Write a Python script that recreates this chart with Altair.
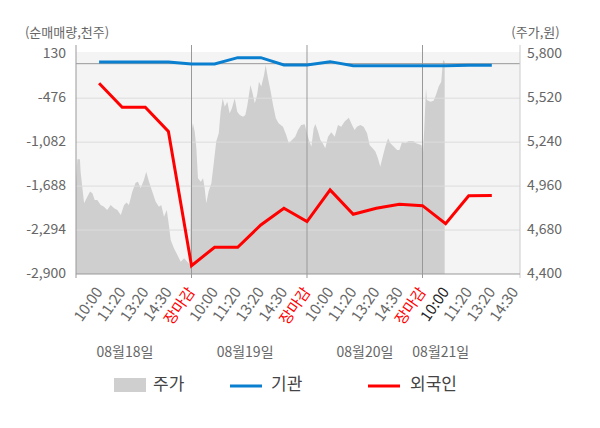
import altair as alt
import pandas as pd

FONT = "Noto Sans CJK KR"
W, H = 444, 222

# ---- data ----
tick_values = list(range(1, 20))
tick_labels = ["10:00", "11:20", "13:20", "14:30", "장마감"] * 3 + ["10:00", "11:20", "13:20", "14:30"]
day_bounds = [0, 5, 10, 15]
date_labels = ["08월18일", "08월19일", "08월20일", "08월21일"]
date_pos = [2.12, 7.32, 12.51, 15.79]

left_ticks = [130, -476, -1082, -1688, -2294, -2900]
left_tick_labels = ["130", "-476", "-1,082", "-1,688", "-2,294", "-2,900"]
right_ticks = [5800, 5520, 5240, 4960, 4680, 4400]
right_tick_labels = ["5,800", "5,520", "5,240", "4,960", "4,680", "4,400"]
grid_vals = [-476, -1082, -1688, -2294]

flow_x = list(range(1, 19))
inst = [24, 24, 24, 24, -5, -5, 83, 83, -18, -18, 28, -27, -27, -27, -27, -30, -20, -20]
foreign = [-269, -600, -600, -936, -2785, -2531, -2531, -2224, -1994, -2178,
           -1741, -2076, -1994, -1939, -1958, -2207, -1821, -1817]

price_x = [0.0, 0.06, 0.17, 0.20, 0.27, 0.35, 0.49, 0.61, 0.71, 0.81, 0.92, 1.07, 1.21, 1.35,
           1.50, 1.65, 1.79, 1.94, 2.08, 2.19, 2.29, 2.44, 2.58, 2.68, 2.80, 2.94, 3.04, 3.16,
           3.30, 3.45, 3.59, 3.69, 3.81, 3.93, 4.03, 4.10, 4.24, 4.39, 4.53, 4.68, 4.82, 4.94,
           4.99, 5.06, 5.14, 5.21, 5.28, 5.40, 5.50, 5.57, 5.64, 5.74, 5.86, 5.97, 6.07, 6.18,
           6.26, 6.35, 6.44, 6.55, 6.65, 6.75, 6.87, 6.98, 7.09, 7.23, 7.33, 7.42, 7.55, 7.63,
           7.74, 7.84, 7.92, 8.02, 8.14, 8.21, 8.31, 8.43, 8.53, 8.65, 8.77, 8.96, 9.10, 9.21,
           9.35, 9.49, 9.61, 9.75, 9.90,
           10.00, 10.10, 10.19, 10.29, 10.36, 10.48, 10.58, 10.68, 10.79, 10.91, 11.05, 11.20,
           11.34, 11.48, 11.63, 11.81, 11.95, 12.06, 12.16, 12.31, 12.45, 12.60, 12.71, 12.84,
           12.96, 13.07, 13.17, 13.28, 13.39, 13.51, 13.61, 13.75, 13.90, 14.00, 14.11, 14.26,
           14.40, 14.59, 14.72, 14.84, 14.95, 15.02,
           15.08, 15.15, 15.19, 15.34, 15.48, 15.58, 15.70, 15.81, 15.89, 15.96]
price = [4978, 5131, 5131, 5052, 4957, 4851, 4893, 4925, 4914, 4872, 4872, 4840, 4829, 4808,
         4840, 4819, 4808, 4776, 4840, 4855, 4840, 4925, 4982, 4988, 4946, 4999, 5052, 4988,
         4925, 4861, 4829, 4840, 4765, 4808, 4701, 4617, 4564, 4521, 4478, 4500, 4478, 4457,
         5297, 5360, 5307, 5201, 5010, 4988, 5010, 4946, 4851, 4925, 4978, 5116, 5244, 5297,
         5434, 5520, 5466, 5498, 5424, 5456, 5520, 5434, 5413, 5402, 5413, 5477, 5604, 5562,
         5488, 5541, 5625, 5594, 5668, 5732, 5647, 5562, 5477, 5392, 5360, 5339, 5286, 5233,
         5254, 5275, 5318, 5350, 5354,
         5297, 5244, 5212, 5329, 5356, 5307, 5254, 5233, 5201, 5275, 5303, 5275,
         5350, 5339, 5371, 5396, 5350, 5318, 5339, 5350, 5339, 5297, 5222, 5201,
         5180, 5137, 5084, 5148, 5212, 5265, 5233, 5212, 5190, 5190, 5240, 5233,
         5248, 5248, 5233, 5227, 5222, 5169,
         5339, 5583, 5509, 5498, 5504, 5541, 5594, 5625, 5764, 5753]

legend_names = ["주가", "기관", "외국인"]
axis_titles = ["(순매매량,천주)", "(주가,원)"]
c_price, c_inst, c_foreign = "#cfcfcf", "#0a7fd0", "#ff0000"
GRAY_TXT = "#666666"

# ---- frames ----
price_df = pd.DataFrame({"u": price_x, "price": price})
flow_df = pd.DataFrame({"u": flow_x, "inst": inst, "foreign": foreign})
grid_df = pd.DataFrame({"v": grid_vals})
zero_df = pd.DataFrame({"v": [0]})
day_df = pd.DataFrame({"u": day_bounds})
end_df = pd.DataFrame({"u": [19.22]})
date_df = pd.DataFrame({"u": date_pos, "t": date_labels})
xt_df = pd.DataFrame({"u": tick_values, "t": tick_labels})
lt_df = pd.DataFrame({"v": left_ticks, "t": left_tick_labels})
rt_df = pd.DataFrame({"v": right_ticks, "t": right_tick_labels})
dummy = pd.DataFrame({"a": [0]})

xs = alt.Scale(domain=[0, 19.22], nice=False, zero=False)
ys_left = alt.Scale(domain=[-2900, 161], nice=False, zero=False)
ys_right = alt.Scale(domain=[4400, 5814.6], nice=False, zero=False)


def X(field):
    return alt.X(field, scale=xs, axis=None)


area = alt.Chart(price_df).mark_area(color=c_price, opacity=1, clip=True).encode(
    x=X("u:Q"),
    y=alt.Y("price:Q", scale=ys_right, axis=None),
)

right_labels = alt.Chart(rt_df).mark_text(
    font=FONT, fontSize=14, color=GRAY_TXT, align="left", baseline="middle"
).encode(x=alt.value(W + 7), y=alt.Y("v:Q", scale=ys_right, axis=None), text="t:N")

grid = alt.Chart(grid_df).mark_rule(color="#dcdcdc", strokeWidth=1).encode(
    y=alt.Y("v:Q", scale=ys_left, axis=None), x=alt.value(0), x2=alt.value(W))
zero = alt.Chart(zero_df).mark_rule(color="#999999", strokeWidth=1).encode(
    y=alt.Y("v:Q", scale=ys_left, axis=None), x=alt.value(0), x2=alt.value(W))
days = alt.Chart(day_df).mark_rule(color="#999999", strokeWidth=1).encode(
    x=X("u:Q"), y=alt.value(-7), y2=alt.value(H + 4))
endline = alt.Chart(end_df).mark_rule(color="#cccccc", strokeWidth=1).encode(
    x=X("u:Q"), y=alt.value(-7), y2=alt.value(H + 4))
baseline = alt.Chart(dummy).mark_rule(color="#999999", strokeWidth=1).encode(
    y=alt.value(H), x=alt.value(0), x2=alt.value(W))

blue = alt.Chart(flow_df).mark_line(color=c_inst, strokeWidth=3).encode(
    x=X("u:Q"), y=alt.Y("inst:Q", scale=ys_left, axis=None))
red = alt.Chart(flow_df).mark_line(color=c_foreign, strokeWidth=3).encode(
    x=X("u:Q"), y=alt.Y("foreign:Q", scale=ys_left, axis=None))

left_labels = alt.Chart(lt_df).mark_text(
    font=FONT, fontSize=14, color=GRAY_TXT, align="right", baseline="middle"
).encode(x=alt.value(-10), y=alt.Y("v:Q", scale=ys_left, axis=None), text="t:N")

left_layer = alt.layer(grid, zero, days, endline, baseline, blue, red, left_labels)

x_labels = alt.Chart(xt_df).transform_calculate(
    col="datum.t == '장마감' ? '#ff0000' : (datum.u == 16 ? '#222222' : '#666666')"
).mark_text(
    font=FONT, fontSize=15, align="right", baseline="middle", angle=305
).encode(x=X("u:Q"), y=alt.value(H + 15), text="t:N",
         color=alt.Color("col:N", scale=None))

dates = alt.Chart(date_df).mark_text(font=FONT, fontSize=14, color=GRAY_TXT,
                                     align="center", baseline="middle").encode(
    x=X("u:Q"), y=alt.value(301), text="t:N")

title_l = alt.Chart(dummy).mark_text(font=FONT, fontSize=13, color=GRAY_TXT,
                                     align="center", baseline="middle", text=axis_titles[0]).encode(
    x=alt.value(-9), y=alt.value(-19))
title_r = alt.Chart(dummy).mark_text(font=FONT, fontSize=13, color=GRAY_TXT,
                                     align="center", baseline="middle", text=axis_titles[1]).encode(
    x=alt.value(459.5), y=alt.value(-19))

leg_y = 333
leg_rect = alt.Chart(dummy).mark_rect(color=c_price).encode(
    x=alt.value(38), x2=alt.value(70), y=alt.value(leg_y - 7), y2=alt.value(leg_y + 7))
leg_blue = alt.Chart(dummy).mark_rule(color=c_inst, strokeWidth=3).encode(
    x=alt.value(154), x2=alt.value(186), y=alt.value(leg_y + 1))
leg_red = alt.Chart(dummy).mark_rule(color=c_foreign, strokeWidth=3).encode(
    x=alt.value(292), x2=alt.value(324), y=alt.value(leg_y + 1))
leg_texts = [
    alt.Chart(dummy).mark_text(font=FONT, fontSize=17, color="#444444", align="left",
                               baseline="middle", text=name).encode(
        x=alt.value(px), y=alt.value(leg_y))
    for name, px in zip(legend_names, [77, 195, 334])
]

chart = alt.layer(
    area, right_labels, left_layer, x_labels, dates, title_l, title_r,
    leg_rect, leg_blue, leg_red, *leg_texts
).resolve_scale(
    y="independent"
).properties(
    width=W, height=H,
    autosize=alt.AutoSizeParams(type="none"),
    padding={"left": 68, "top": 44, "right": 72, "bottom": 150},
    background="white",
).configure_view(fill="#f4f4f4", stroke=None)

chart.save("out.html", embed_options={"renderer": "svg", "actions": False})
